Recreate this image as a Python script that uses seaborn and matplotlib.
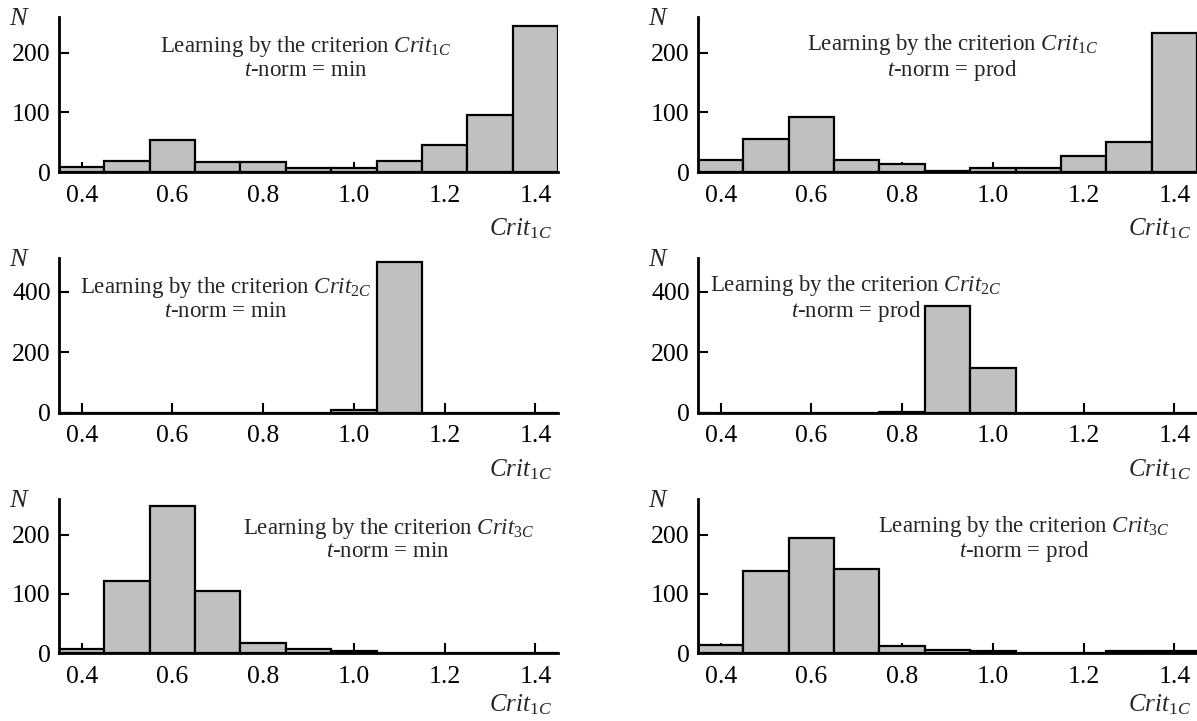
import seaborn as sns
import matplotlib.pyplot as plt
import pandas as pd

# bin centers of Crit_1C and counts N
centers = [0.4, 0.5, 0.6, 0.7, 0.8, 0.9, 1.0, 1.1, 1.2, 1.3, 1.4]
n_crit1_min = [9, 19, 53, 16, 17, 7, 6, 19, 45, 95, 245]
n_crit1_prod = [21, 55, 93, 21, 13, 2, 7, 7, 27, 50, 234]
n_crit2_min = [0, 0, 0, 0, 0, 0, 9, 499, 0, 0, 0]
n_crit2_prod = [0, 0, 0, 0, 4, 355, 149, 0, 0, 0, 0]
n_crit3_min = [6, 122, 248, 105, 17, 7, 3, 0, 0, 0, 0]
n_crit3_prod = [14, 139, 195, 141, 12, 5, 3, 0, 0, 3, 3]

x_ticks = [0.4, 0.6, 0.8, 1.0, 1.2, 1.4]
y_ticks_top = [0, 100, 200]
y_ticks_mid = [0, 200, 400]
y_ticks_bot = [0, 100, 200]

sns.set_theme(style="ticks")
plt.rcParams['font.family'] = ['Liberation Serif', 'DejaVu Serif']
plt.rcParams['mathtext.fontset'] = 'custom'
plt.rcParams['mathtext.rm'] = 'Liberation Serif'
plt.rcParams['mathtext.it'] = 'Liberation Serif:italic'

fig = plt.figure(figsize=(11.97, 7.21), dpi=100)

edges = [round(0.35 + 0.1 * i, 2) for i in range(12)]
W = 0.4169
L1, L2 = 0.0493, 0.5831
panels = [
    # counts, left, bottom, height, yticks, ylim top, criterion, tnorm, text x, xlabel y
    (n_crit1_min, L1, 0.7614, 0.215, y_ticks_top, 260, "1C", "min", 0.495, -0.365),
    (n_crit1_prod, L2, 0.7614, 0.215, y_ticks_top, 260, "1C", "prod", 0.51, -0.365),
    (n_crit2_min, L1, 0.4272, 0.215, y_ticks_mid, 512, "2C", "min", 0.335, -0.365),
    (n_crit2_prod, L2, 0.4272, 0.215, y_ticks_mid, 512, "2C", "prod", 0.317, -0.365),
    (n_crit3_min, L1, 0.0943, 0.2136, y_ticks_bot, 260, "3C", "min", 0.66, -0.335),
    (n_crit3_prod, L2, 0.0943, 0.2136, y_ticks_bot, 260, "3C", "prod", 0.653, -0.335),
]

for counts, left, bottom, h, yt, ytop, crit, tn, tx, ly in panels:
    ax = fig.add_axes([left, bottom, W, h])
    df = pd.DataFrame({"c": centers, "n": counts})
    sns.histplot(data=df, x="c", weights="n", bins=edges, ax=ax,
                 color="#c0c0c0", alpha=1, edgecolor="black", linewidth=1.6)
    ax.set_xlim(0.35, 1.45)
    ax.set_ylim(0, ytop)
    ax.set_xticks(x_ticks)
    ax.set_xticklabels([f"{v:.1f}" for v in x_ticks])
    ax.set_yticks(yt)
    ax.tick_params(direction="in", length=7, width=1.5, labelsize=18.5,
                   colors="black")
    ax.tick_params(axis="x", pad=9)
    ax.tick_params(axis="y", pad=6)
    ax.set_xlabel("")
    ax.set_ylabel("")
    for s in ["top", "right"]:
        ax.spines[s].set_visible(False)
    for s in ["left", "bottom"]:
        ax.spines[s].set_linewidth(2)
        ax.spines[s].set_color("black")
    ax.text(-0.08, 0.985, "$N$", transform=ax.transAxes, ha="center",
            va="center", fontsize=19)
    ax.text(0.988, ly, "$Crit_{1C}$", transform=ax.transAxes, ha="right",
            va="center", fontsize=18)
    ax.text(tx, 0.74, f"Learning by the criterion $Crit_{{{crit}}}$\n$t$-norm = {tn}",
            transform=ax.transAxes, ha="center", va="center", fontsize=16.5,
            linespacing=1.05)

fig.savefig("out.png", dpi=100)
